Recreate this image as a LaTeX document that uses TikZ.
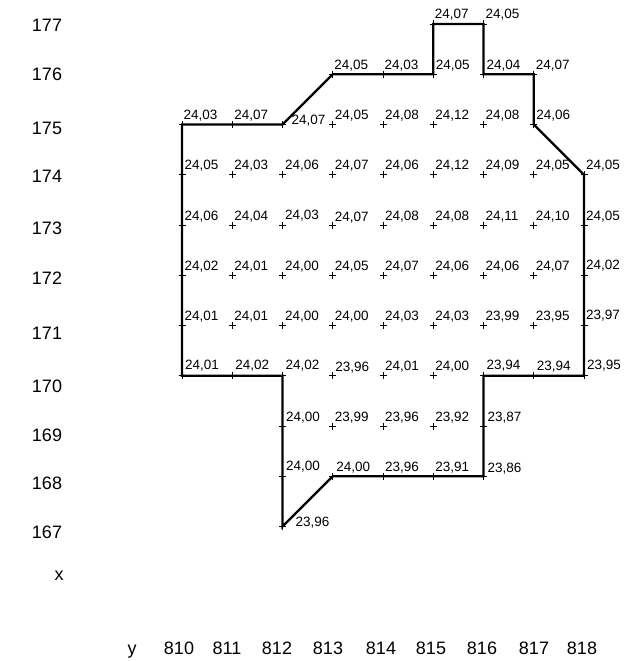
\documentclass[tikz,border=0pt]{standalone}
\usepackage{fontspec}
\setmainfont{Liberation Sans}
\usetikzlibrary{calc}
\begin{document}
\begin{tikzpicture}[x=1pt,y=-1pt,
  bnd/.style={line width=2.3pt, line join=miter},
  crossmark/.style={line width=0.8pt},
  val/.style={font=\fontsize{13.5}{13.5}\selectfont, inner sep=0pt, anchor=base west},
  axl/.style={font=\fontsize{18}{18}\selectfont, inner sep=0pt}]
\useasboundingbox (0,0) rectangle (636,661);
% measurement points: column / row / value (integer / decimals) / label offset
\foreach \c/\r/\a/\b/\dx/\dy in {
  815/177/24/07/1.5/-5, 816/177/24/05/2/-5,
  813/176/24/05/1.5/-5, 814/176/24/03/1.5/-5, 815/176/24/05/2.5/-5, 816/176/24/04/3/-5, 817/176/24/07/2/-5,
  810/175/24/03/1.5/-5, 811/175/24/07/2/-5, 812/175/24/07/9/0, 813/175/24/05/2/-5, 814/175/24/08/2/-5,
  815/175/24/12/2/-5, 816/175/24/08/2/-5, 817/175/24/06/2.5/-5,
  810/174/24/05/2.5/-5, 811/174/24/03/2/-5, 812/174/24/06/2.5/-5, 813/174/24/07/2/-5, 814/174/24/06/2/-5,
  815/174/24/12/2/-5, 816/174/24/09/2/-5, 817/174/24/05/2/-5, 818/174/24/05/2/-5,
  810/173/24/06/2.5/-5, 811/173/24/04/2/-5, 812/173/24/03/2.5/-6, 813/173/24/07/2/-4, 814/173/24/08/2/-5,
  815/173/24/08/2/-5, 816/173/24/11/2/-5, 817/173/24/10/2/-5, 818/173/24/05/2/-5,
  810/172/24/02/2.5/-5, 811/172/24/01/2/-5, 812/172/24/00/2.5/-5, 813/172/24/05/2/-5, 814/172/24/07/2/-5,
  815/172/24/06/2/-5, 816/172/24/06/2/-5, 817/172/24/07/2/-5, 818/172/24/02/2/-6,
  810/171/24/01/2.5/-5, 811/171/24/01/2/-5, 812/171/24/00/2.5/-5, 813/171/24/00/2/-5, 814/171/24/03/2/-5,
  815/171/24/03/2/-5, 816/171/23/99/2/-5, 817/171/23/95/2/-5, 818/171/23/97/2/-6,
  810/170/24/01/3/-6, 811/170/24/02/3/-6, 812/170/24/02/3/-6, 813/170/23/96/2.5/-4, 814/170/24/01/2/-5,
  815/170/24/00/2/-5, 816/170/23/94/3/-6, 817/170/23/94/3/-5, 818/170/23/95/3/-6,
  812/169/24/00/3.5/-5, 813/169/23/99/2/-5, 814/169/23/96/2/-5, 815/169/23/92/2/-5, 816/169/23/87/4/-5,
  812/168/24/00/3.5/-6, 813/168/24/00/3.5/-5, 814/168/23/96/2/-5, 815/168/23/91/2/-5, 816/168/23/86/4/-4,
  812/167/23/96/13/0}
{
  \coordinate (p\c-\r) at ({182+50.25*(\c-810)},{24+50.25*(177-\r)});
  \draw[crossmark] (p\c-\r) ++(-3.5,0) -- ++(7,0) (p\c-\r) ++(0,-3.5) -- ++(0,7);
  \node[val] (v\c-\r) at ($(p\c-\r)+(\dx,\dy)$) {\a,\b};
}
% boundary
\draw[bnd] (p810-175) -- (p811-175) -- (p812-175) -- (p813-176) -- (p814-176) -- (p815-176)
  -- (p815-177) -- (p816-177) -- (p816-176) -- (p817-176) -- (p817-175) -- (p818-174)
  -- (p818-173) -- (p818-172) -- (p818-171) -- (p818-170) -- (p817-170) -- (p816-170)
  -- (p816-169) -- (p816-168) -- (p815-168) -- (p814-168) -- (p813-168) -- (p812-167)
  -- (p812-168) -- (p812-169) -- (p812-170) -- (p811-170) -- (p810-170)
  -- (p810-171) -- (p810-172) -- (p810-173) -- (p810-174) -- cycle;
% row labels
\foreach \t/\yy in {177/25, 176/74, 175/128, 174/176, 173/228, 172/278, 171/333, 170/386, 169/435, 168/483, 167/532}
  \node[axl] (r\t) at (47,\yy) {\t};
\node[axl] (xlab) at (59,576) {x};
% column labels
\node[axl, anchor=base] (ylab) at (132,654) {y};
\foreach \t/\xx in {810/179, 811/227, 812/277, 813/328, 814/381, 815/431, 816/482, 817/534, 818/582}
  \node[axl, anchor=base] (c\t) at (\xx,654) {\t};
\end{tikzpicture}
\end{document}
